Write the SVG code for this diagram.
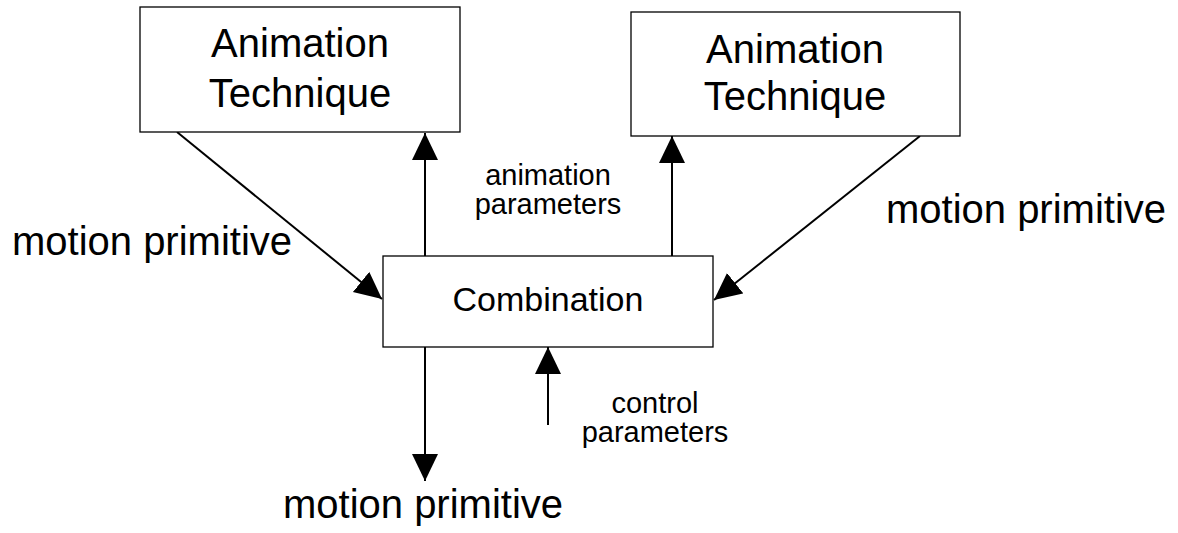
<svg xmlns="http://www.w3.org/2000/svg" width="1178" height="533" viewBox="0 0 1178 533">
  <style>
    .box { fill: #ffffff; stroke: #000000; stroke-width: 1.3; }
    .edge { fill: none; stroke: #000000; stroke-width: 2; }
    text { font-family: "Liberation Sans", Arial, sans-serif; fill: #000000; text-anchor: middle; }
    .big { font-size: 40px; }
    .mid { font-size: 34px; }
    .small { font-size: 29px; }
  </style>
  <defs>
    <marker id="arrow" markerUnits="userSpaceOnUse" markerWidth="28" markerHeight="28" viewBox="0 0 28 28" refX="27" refY="14" orient="auto">
      <path d="M0,1 L27,14 L0,27 Z" fill="#000000"/>
    </marker>
  </defs>
  <rect width="1178" height="533" fill="#ffffff"/>

  <!-- connectors -->
  <g id="connectors">
    <line class="edge" x1="177" y1="132" x2="382" y2="299" marker-end="url(#arrow)"/>
    <line class="edge" x1="920" y1="136" x2="714" y2="300" marker-end="url(#arrow)"/>
    <line class="edge" x1="425" y1="256" x2="425" y2="133" marker-end="url(#arrow)"/>
    <line class="edge" x1="672" y1="256" x2="672" y2="136" marker-end="url(#arrow)"/>
    <line class="edge" x1="425" y1="347" x2="425" y2="481" marker-end="url(#arrow)"/>
    <line class="edge" x1="548" y1="425" x2="548" y2="347" marker-end="url(#arrow)"/>
  </g>

  <g id="technique-left">
    <rect class="box" x="140" y="7" width="320" height="125"/>
    <text class="big" x="300" y="57">Animation</text>
    <text class="big" x="300" y="107">Technique</text>
  </g>

  <g id="technique-right">
    <rect class="box" x="631" y="12" width="329" height="124"/>
    <text class="big" x="795" y="63">Animation</text>
    <text class="big" x="795" y="110">Technique</text>
  </g>

  <g id="combination">
    <rect class="box" x="383" y="256" width="330" height="91"/>
    <text class="mid" x="548" y="311">Combination</text>
  </g>

  <!-- edge labels -->
  <g id="labels">
    <text class="big" x="152" y="255">motion primitive</text>
    <text class="big" x="1026" y="223">motion primitive</text>
    <text class="big" x="423" y="518">motion primitive</text>
    <text class="small" x="548" y="185">animation</text>
    <text class="small" x="548" y="214">parameters</text>
    <text class="small" x="655" y="413">control</text>
    <text class="small" x="655" y="442">parameters</text>
  </g>
</svg>
